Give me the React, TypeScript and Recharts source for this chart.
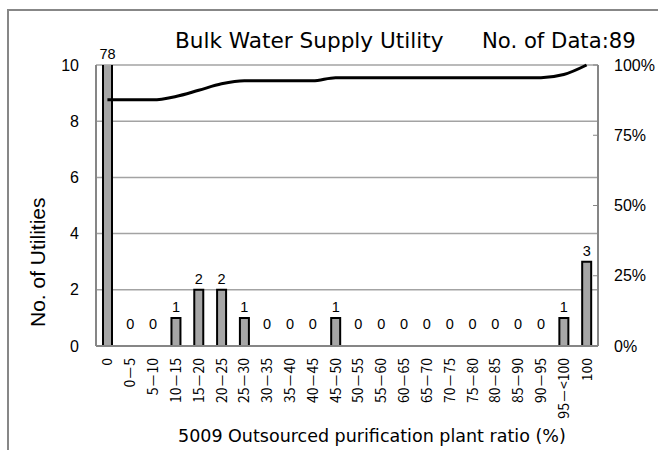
import React from 'react';
import { ComposedChart, Bar, Line, XAxis, YAxis, CartesianGrid, LabelList } from 'recharts';

const categories = ['0', '0－5', '5－10', '10－15', '15－20', '20－25', '25－30', '30－35', '35－40', '40－45', '45－50', '50－55', '55－60', '60－65', '65－70', '70－75', '75－80', '80－85', '85－90', '90－95', '95－<100', '100'];
const counts = [78, 0, 0, 1, 2, 2, 1, 0, 0, 0, 1, 0, 0, 0, 0, 0, 0, 0, 0, 0, 1, 3];
const cumulativePct = [87.6, 87.6, 87.6, 88.8, 91.0, 93.3, 94.4, 94.4, 94.4, 94.4, 95.5, 95.5, 95.5, 95.5, 95.5, 95.5, 95.5, 95.5, 95.5, 95.5, 96.6, 100];
const countTicks = [0, 2, 4, 6, 8, 10];
const pctTicks = [0, 25, 50, 75, 100];

const TITLE = 'Bulk Water Supply Utility';
const SUBTITLE = 'No. of Data:89';
const Y_LABEL = 'No. of Utilities';
const X_LABEL = '5009 Outsourced purification plant ratio (%)';

const data = categories.map((c, i) => ({ cat: c, count: counts[i], cum: cumulativePct[i] }));

const PLOT_TOP = 65;
const JP = '"Noto Sans CJK JP", sans-serif';
const LAT = '"Liberation Sans", Arial, sans-serif';
const DV = '"DejaVu Sans", sans-serif';

const XTick = (props: any) => {
  const { x, y, payload } = props;
  return (
    <g transform={`translate(${x},${y})`}>
      <text x={0} y={0} dy="0.36em" textAnchor="end" transform="rotate(-90)" fontSize={14} fontFamily={JP} fill="#000">
        {payload.value}
      </text>
    </g>
  );
};

const BarLabel = (props: any) => {
  const { x, y, width, value } = props;
  if (value === 0) return null;
  const top = Math.max(Number(y), PLOT_TOP);
  return (
    <text x={Number(x) + Number(width) / 2} y={top - 6} textAnchor="middle" fontSize={14.5} fontFamily={LAT} fill="#000">
      {value}
    </text>
  );
};

const ZeroLabel = (props: any) => {
  const { x, y, value } = props;
  if (value !== 0) return null;
  return (
    <text x={Number(x)} y={Number(y) - 17} textAnchor="middle" fontSize={14.5} fontFamily={LAT} fill="#000">
      {value}
    </text>
  );
};

export default function App() {
  return (
    <div style={{ position: 'absolute', left: 0, top: 0, width: 658, height: 450, overflow: 'hidden', background: '#fff' }}>
      <div style={{ position: 'absolute', left: 7, top: 9, width: 800, height: 600, border: '2px solid #878787' }} />
      <div style={{ position: 'absolute', left: 0, top: 0 }}>
        <ComposedChart width={658} height={450} data={data} margin={{ top: PLOT_TOP, right: 0, left: 36, bottom: 4 }} barCategoryGap={0}>
          <CartesianGrid yAxisId="cnt" vertical={false} stroke="#a3a3a3" strokeWidth={1.5} />
          <XAxis dataKey="cat" interval={0} height={100} tickLine={false} tickSize={0} tickMargin={12} tick={<XTick />} axisLine={{ stroke: '#868686', strokeWidth: 2 }} />
          <YAxis yAxisId="cnt" width={60} domain={[0, 10]} ticks={countTicks} allowDataOverflow tickLine={false} tickSize={0} tickMargin={17} axisLine={{ stroke: '#868686', strokeWidth: 2 }} tick={{ fontSize: 16, fontFamily: LAT, fill: '#000' }} />
          <YAxis yAxisId="pct" orientation="right" width={60} domain={[0, 100]} ticks={pctTicks} tickFormatter={(v: number) => `${v}%`} tickLine={{ stroke: '#868686' }} tickSize={-5} tickMargin={21} axisLine={{ stroke: '#868686', strokeWidth: 2 }} tick={{ fontSize: 16, fontFamily: LAT, fill: '#000', textAnchor: 'start' }} />
          <Bar yAxisId="cnt" dataKey="count" barSize={9} fill="#a6a6a6" stroke="#000" strokeWidth={2} isAnimationActive={false}>
            <LabelList dataKey="count" content={<BarLabel />} />
          </Bar>
          <Line yAxisId="cnt" dataKey="count" stroke="none" dot={false} activeDot={false} legendType="none" isAnimationActive={false}>
            <LabelList dataKey="count" content={<ZeroLabel />} />
          </Line>
          <Line yAxisId="pct" dataKey="cum" type="monotone" stroke="#000" strokeWidth={3} dot={false} isAnimationActive={false} />
        </ComposedChart>
      </div>
      <svg width={658} height={450} style={{ position: 'absolute', left: 0, top: 0, pointerEvents: 'none' }}>
        <text x={175} y={48} fontSize={21.6} fontFamily={DV} fill="#000">{TITLE}</text>
        <text x={482} y={48} fontSize={21.2} fontFamily={DV} fill="#000">{SUBTITLE}</text>
        <text transform="translate(45,327) rotate(-90)" fontSize={21} fontFamily={LAT} fill="#000">{Y_LABEL}</text>
        <text x={178} y={442} fontSize={17.5} fontFamily={DV} fill="#000">{X_LABEL}</text>
      </svg>
    </div>
  );
}
